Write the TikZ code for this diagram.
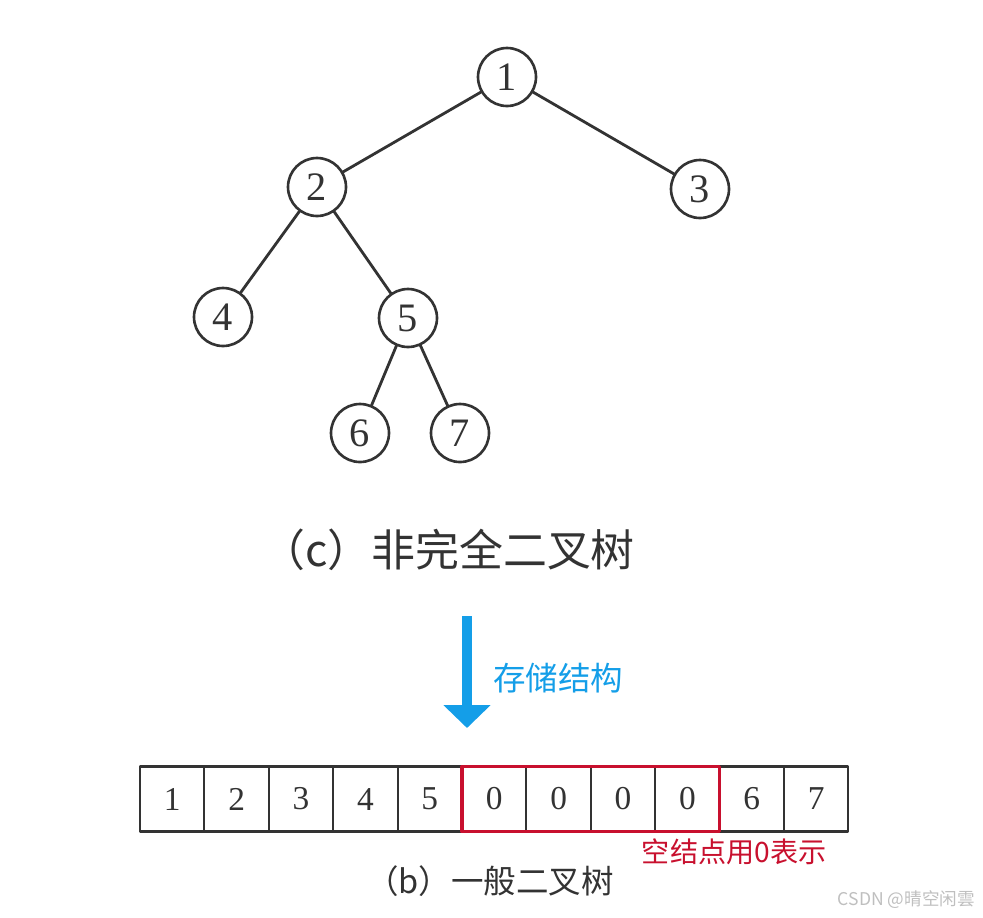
\documentclass[tikz,border=0pt]{standalone}
\usepackage{fontspec}
\usepackage{tikz}
\usepackage{xcolor}
\newfontfamily\cjk{Noto Sans CJK SC}
\setmainfont{Liberation Serif}
\colorlet{mygrey}{black!80}
\definecolor{myblue}{RGB}{20,158,232}
\definecolor{myred}{RGB}{200,16,46}
\tikzset{>=latex}
\usetikzlibrary{arrows.meta, positioning}

\begin{document}
\begin{tikzpicture}[x=0.02cm, y=-0.02cm,
                line cap=round, line join=round,
                treenode/.style={circle, draw=mygrey, line width=1.5pt, minimum size=1.16cm, inner sep=0pt, font=\fontsize{23}{23}\selectfont, text=mygrey},
                edge/.style={mygrey, line width=1.6pt},
                cell/.style={draw=mygrey, line width=1.2pt, minimum width=1.288cm, minimum height=1.3cm, inner sep=0pt, font=\fontsize{19}{19}\selectfont, text=mygrey, outer sep=0pt}]
                \useasboundingbox (0,0) rectangle (983,917);
                \def\cellw{64.4}

                % tree
                \node[treenode] (n1) at (507,77) {1};
                \node[treenode] (n2) at (317,187) {2};
                \node[treenode] (n3) at (700,189) {3};
                \node[treenode] (n4) at (223,317) {4};
                \node[treenode] (n5) at (408,318) {5};
                \node[treenode] (n6) at (360,433) {6};
                \node[treenode] (n7) at (460,433) {7};
                \foreach \a/\b in {n1/n2, n1/n3, n2/n4, n2/n5, n5/n6, n5/n7}
                    \draw[edge] (\a) -- (\b);
                \node[text=mygrey, font=\cjk\fontsize{25}{25}\selectfont] (capc) at (448,550) {（c）非完全二叉树};

                % storage arrow
                \coordinate (arrtop) at (467,616);
                \coordinate (arrbot) at (467,728);
                \draw[myblue, line width=0.2cm, line cap=butt, -{Triangle[width=0.92cm, length=0.46cm]}] (arrtop) -- (arrbot);
                \node[text=myblue, font=\cjk\fontsize{18.5}{18.5}\selectfont, anchor=west] (store) at (487,678) {存储结构};

                % array
                \foreach \v [count=\i] in {1,2,3,4,5,0,0,0,0,6,7}{
                    \node[cell] (c\i) at ({140+\cellw*(\i-0.5)},799) {\v};
                }
                \draw[myred, line width=1.8pt, line cap=butt] (c6.north west) rectangle (c9.south east);
                \node[text=myred, font=\cjk\fontsize{16}{16}\selectfont, anchor=north east, inner sep=0pt] (empty) at ([xshift=2.14cm, yshift=-0.14cm]c9.south east) {空结点用0表示};
                \node[text=mygrey, font=\cjk\fontsize{18.5}{18.5}\selectfont] (capb) at (490,881) {（b）一般二叉树};

                % watermark
                \node[text=black!25, font=\cjk\fontsize{10}{10}\selectfont, anchor=east] (mark) at (981,900) {CSDN @晴空闲雲};
\end{tikzpicture}
\end{document}
